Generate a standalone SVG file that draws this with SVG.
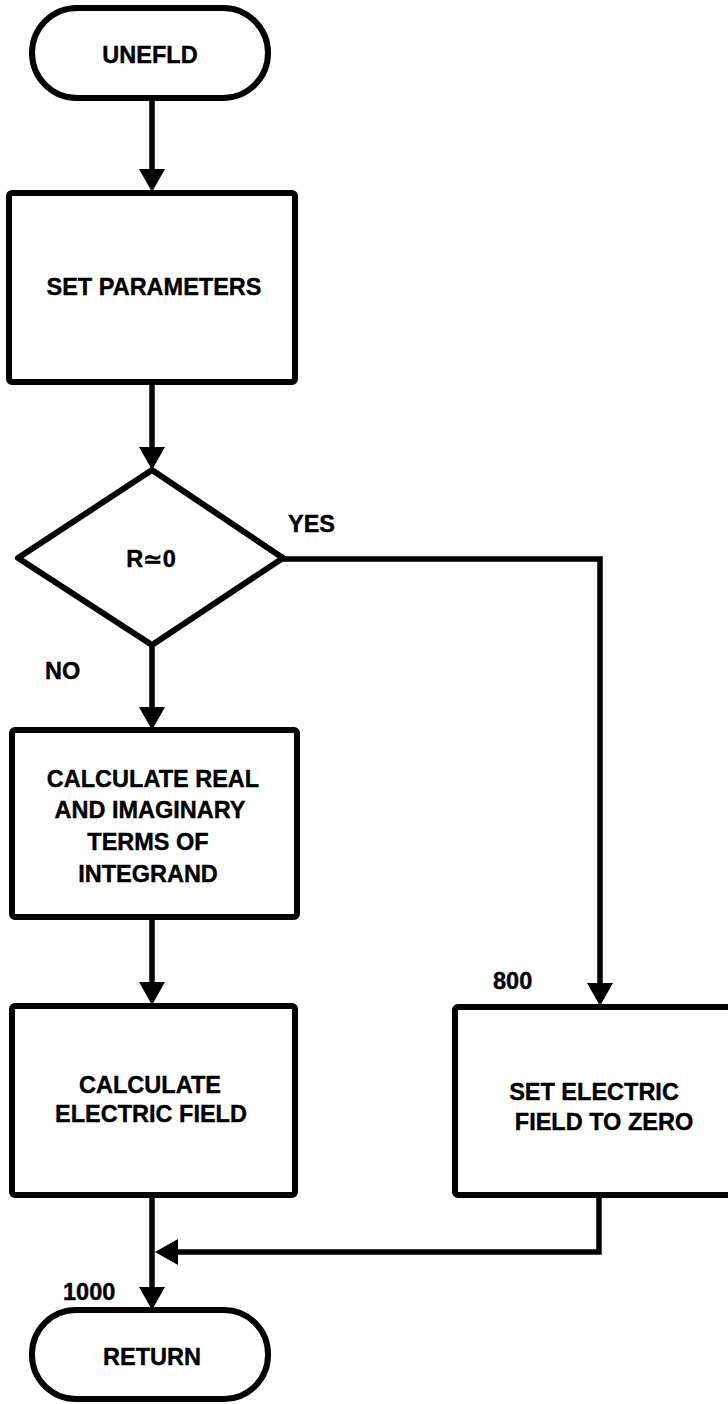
<svg xmlns="http://www.w3.org/2000/svg" width="728" height="1404" viewBox="0 0 728 1404">
  <style>
    .shape { fill: #ffffff; stroke: #000000; stroke-width: 6; stroke-linejoin: round; }
    .wire { fill: none; stroke: #000000; stroke-width: 5.5; stroke-linejoin: miter; }
    .lbl { font-family: "Liberation Sans", "DejaVu Sans", Arial, sans-serif; font-weight: bold; font-size: 23.5px; fill: #000000; stroke: #000000; stroke-width: 0.4; }
    .mid { text-anchor: middle; }
  </style>
  <defs>
    <marker id="arrow" markerUnits="userSpaceOnUse" markerWidth="24" markerHeight="27" refX="12" refY="13" orient="auto">
      <path d="M0,0 L23,13 L0,26 Z" fill="#000000"/>
    </marker>
  </defs>

  <!-- connectors -->
  <g id="connectors">
    <path class="wire" d="M152,98 V181" marker-end="url(#arrow)"/>
    <path class="wire" d="M152,382 V459" marker-end="url(#arrow)"/>
    <path class="wire" d="M152,645 V719" marker-end="url(#arrow)"/>
    <path class="wire" d="M152,917 V994" marker-end="url(#arrow)"/>
    <path class="wire" d="M152,1195 V1299" marker-end="url(#arrow)"/>
    <path class="wire" d="M283,559 H600 V995" marker-end="url(#arrow)"/>
    <path class="wire" d="M599,1195 V1252 H166" marker-end="url(#arrow)"/>
    <text class="lbl" x="288" y="532">YES</text>
    <text class="lbl" x="45" y="679">NO</text>
    <text class="lbl" x="493" y="989">800</text>
    <text class="lbl" x="63" y="1300">1000</text>
  </g>

  <!-- start terminal -->
  <g id="start">
    <rect class="shape" x="32" y="8" width="236" height="90" rx="45" ry="45"/>
    <text class="lbl mid" x="150" y="63">UNEFLD</text>
  </g>

  <!-- parameter setup -->
  <g id="set-parameters">
    <rect class="shape" x="9" y="193" width="286" height="189" rx="3"/>
    <text class="lbl mid" x="154" y="295">SET PARAMETERS</text>
  </g>

  <!-- radius test -->
  <g id="decision">
    <polygon class="shape" points="152,470 283,558 152,645 18,558"/>
    <text class="lbl mid" x="151" y="567">R≃0</text>
  </g>

  <!-- integrand terms -->
  <g id="calc-integrand">
    <rect class="shape" x="12" y="730" width="285" height="187" rx="3"/>
    <text class="lbl mid" x="153" y="787">CALCULATE REAL</text>
    <text class="lbl mid" x="150" y="818">AND IMAGINARY</text>
    <text class="lbl mid" x="148" y="850">TERMS OF</text>
    <text class="lbl mid" x="148" y="882">INTEGRAND</text>
  </g>

  <!-- field computation -->
  <g id="calc-field">
    <rect class="shape" x="12" y="1006" width="283" height="189" rx="3"/>
    <text class="lbl mid" x="150" y="1093">CALCULATE</text>
    <text class="lbl mid" x="151" y="1122">ELECTRIC FIELD</text>
  </g>

  <!-- zero-field branch -->
  <g id="zero-field">
    <rect class="shape" x="455" y="1007" width="300" height="188" rx="3"/>
    <text class="lbl mid" x="594" y="1100">SET ELECTRIC</text>
    <text class="lbl mid" x="604" y="1130">FIELD TO ZERO</text>
  </g>

  <!-- end terminal -->
  <g id="return">
    <rect class="shape" x="32" y="1310" width="236" height="89" rx="44" ry="44"/>
    <text class="lbl mid" x="152" y="1365">RETURN</text>
  </g>
</svg>
